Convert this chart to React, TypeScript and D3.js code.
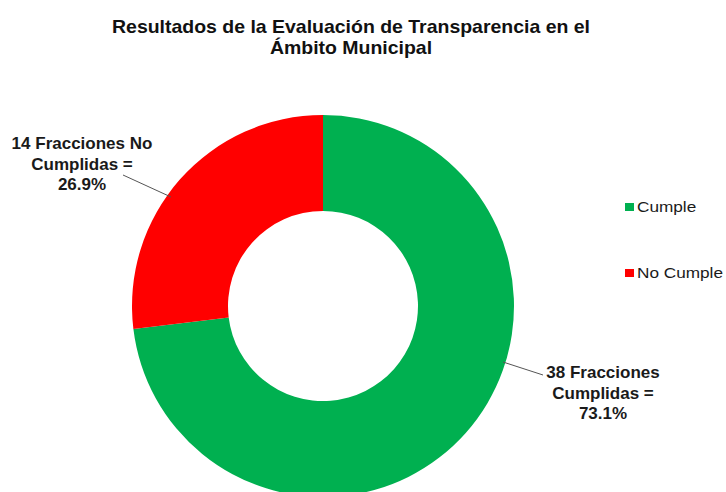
import React, { useEffect, useRef } from 'react';
import * as d3 from 'd3';

const categories = ['Cumple', 'No Cumple'];
const values = [38, 14];
const colors = ['#00B050', '#FF0000'];
const sliceLabels = [
  ['38 Fracciones', 'Cumplidas =', '73.1%'],
  ['14 Fracciones No', 'Cumplidas =', '26.9%'],
];
const titleLines = ['Resultados de la Evaluación de Transparencia en el', 'Ámbito Municipal'];

const W = 726;
const H = 492;
const FONT = 'Liberation Sans, Arial, sans-serif';

function App() {
  const ref = useRef<SVGSVGElement | null>(null);

  useEffect(() => {
    const svg = d3.select(ref.current);
    svg.selectAll('*').remove();

    const cx = 323;
    const cy = 306;
    const outerR = 191;
    const innerR = 95;

    svg.append('rect').attr('width', W).attr('height', H).attr('fill', '#fff');

    // title (source picture is a bit stretched sideways)
    svg.append('g')
      .attr('transform', 'translate(351,0) scale(1.1,1)')
      .selectAll('text')
      .data(titleLines)
      .enter()
      .append('text')
      .attr('x', 0)
      .attr('y', (d, i) => 33 + i * 21)
      .attr('text-anchor', 'middle')
      .style('font-family', FONT)
      .style('font-weight', 'bold')
      .style('font-size', '17.7px')
      .attr('fill', '#111')
      .text(d => d);

    const data = categories.map((c, i) => ({ label: c, value: values[i], color: colors[i] }));
    const pie = d3.pie<any>().sort(null).value(d => d.value);
    const arc = d3.arc<any>().innerRadius(innerR).outerRadius(outerR);

    const g = svg.append('g').attr('transform', `translate(${cx},${cy})`);
    g.selectAll('path')
      .data(pie(data))
      .enter()
      .append('path')
      .attr('d', arc)
      .attr('fill', d => d.data.color);

    // labels + leader lines
    const anchors = [
      { lx: 603, ly: 378, ax: 543, ay: 375, end: [503, 362] },
      { lx: 82, ly: 149, ax: 123, ay: 175, end: [171, 197] },
    ];
    anchors.forEach((a, i) => {
      svg.append('line')
        .attr('x1', a.end[0])
        .attr('y1', a.end[1])
        .attr('x2', a.ax)
        .attr('y2', a.ay)
        .attr('stroke', '#555')
        .attr('stroke-width', 1);
      svg.append('g')
        .selectAll('text')
        .data(sliceLabels[i])
        .enter()
        .append('text')
        .attr('x', a.lx)
        .attr('y', (d, j) => a.ly + j * 20.5)
        .attr('text-anchor', 'middle')
        .style('font-family', FONT)
        .style('font-weight', 'bold')
        .style('font-size', '17px')
        .attr('fill', '#1a1a1a')
        .text(d => d);
    });

    // legend
    const legend = svg.append('g').attr('transform', 'translate(625,203)');
    const item = legend.selectAll('g')
      .data(data)
      .enter()
      .append('g')
      .attr('transform', (d, i) => `translate(0,${i * 66})`);
    item.append('rect')
      .attr('width', 9)
      .attr('height', 8)
      .attr('fill', d => d.color);
    item.append('text')
      .attr('transform', 'translate(12,9) scale(1.11,1)')
      .style('font-family', FONT)
      .style('font-size', '15.5px')
      .attr('fill', '#1a1a1a')
      .text(d => d.label);
  }, []);

  return (
    <div style={{ position: 'fixed', left: 0, top: 0 }}>
      <svg ref={ref} width={W} height={H}></svg>
    </div>
  );
}

export default App;
